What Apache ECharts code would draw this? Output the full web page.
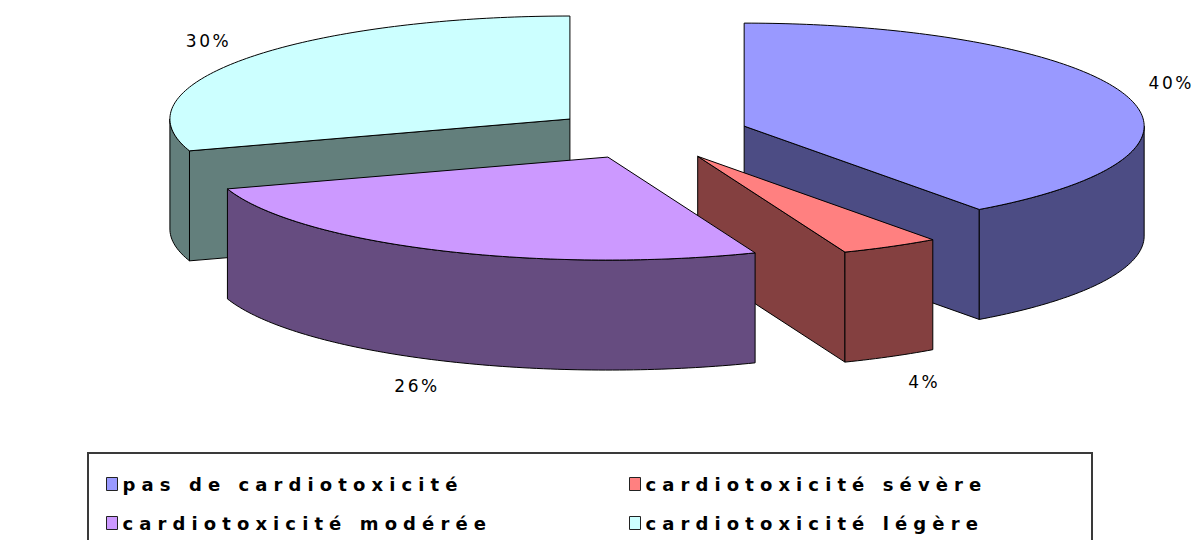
<!DOCTYPE html>
<html><head><meta charset="utf-8">
<script src="https://cdn.jsdelivr.net/npm/echarts@6/dist/echarts.min.js"></script>
<style>
html,body{margin:0;padding:0;background:#fff;}
#chart{width:1193px;height:540px;}
#chart text{letter-spacing:2.5px;}
#chart text[style*="bold"]{letter-spacing:6.1px;}
</style></head><body><div id="chart"></div>
<script>
// ---- data ----
const categories = ['pas de cardiotoxicité', 'cardiotoxicité sévère', 'cardiotoxicité modérée', 'cardiotoxicité légère'];
const values = [40, 4, 26, 30]; // percent
const legendColumn1 = [categories[0], categories[2]];
const legendColumn2 = [categories[1], categories[3]];

// ---- styles ----
const topColors = ['#9999FF', '#FF8080', '#CC99FF', '#CCFFFF'];
const sideColors = ['#4C4C84', '#844040', '#664C80', '#637F7C'];
const CX = 650, CY = 134, RX = 400, RY = 103, DEPTH = 110, EXPLODE = 99;

function makeRender(i) {
  return function (params, api) {
    const total = values.reduce((s, v) => s + v, 0);
    let before = 0;
    for (let j = 0; j < i; j++) before += values[j];
    const v = api.value(0);
    const a0 = before / total * 2 * Math.PI;
    const a1 = (before + v) / total * 2 * Math.PI;
    const m = (a0 + a1) / 2;
    const K = RY / RX;
    const ox = CX + Math.sin(m) * EXPLODE;
    const oy = CY - Math.cos(m) * EXPLODE * K;
    const P = (a, d) => [ox + RX * Math.sin(a), oy - RY * Math.cos(a) + (d || 0)];
    const arc = (s, e, d) => {
      const n = Math.max(2, Math.ceil((e - s) / (Math.PI / 180)));
      const pts = [];
      for (let t = 0; t <= n; t++) pts.push(P(s + (e - s) * t / n, d));
      return pts;
    };
    const base = Math.round((1 - Math.cos(m)) * 1000);
    const sideStyle = { fill: sideColors[i], stroke: '#000', lineWidth: 1, lineJoin: 'round' };
    const topStyle = { fill: topColors[i], stroke: '#000', lineWidth: 1, lineJoin: 'round' };
    const children = [];
    if (Math.sin(a0) < -1e-6) {
      children.push({ type: 'polygon', z2: base, shape: { points: [[ox, oy], P(a0), P(a0, DEPTH), [ox, oy + DEPTH]] }, style: sideStyle });
    }
    if (Math.sin(a1) > 1e-6) {
      children.push({ type: 'polygon', z2: base, shape: { points: [[ox, oy], P(a1), P(a1, DEPTH), [ox, oy + DEPTH]] }, style: sideStyle });
    }
    const s = Math.max(a0, Math.PI / 2), e = Math.min(a1, 1.5 * Math.PI);
    if (s < e) {
      children.push({ type: 'polygon', z2: base, shape: { points: arc(s, e, 0).concat(arc(s, e, DEPTH).reverse()) }, style: sideStyle });
    }
    children.push({ type: 'polygon', z2: base + 1, shape: { points: [[ox, oy]].concat(arc(a0, a1, 0)) }, style: topStyle });
    const c = Math.cos(m);
    const sn = Math.sin(m);
    const lx = ox + sn * RX * 1.12 + 1 + (c < 0 ? 12 * sn + 4 : 0);
    let ly = oy - c * RY * 1.1;
    ly += c < 0 ? DEPTH + 6 + 12 * (-c) : -4 - 12 * c;
    children.push({ type: 'text', z2: 5000, style: { text: v + '%', x: lx, y: ly, align: 'center', verticalAlign: 'middle', fill: '#000', font: '17px "DejaVu Sans"' } });
    return { type: 'group', children };
  };
}

const chart = echarts.init(document.getElementById('chart'), null, { renderer: 'svg' });
const legendCommon = {
  orient: 'vertical', top: 470, itemWidth: 11, itemHeight: 13, itemGap: 21,
  icon: 'rect', selectedMode: false,
  itemStyle: { borderColor: '#222', borderWidth: 1 },
  textStyle: { fontFamily: 'DejaVu Sans', fontWeight: 'bold', fontSize: 18, color: '#000' }
};
chart.setOption({
  animation: false,
  backgroundColor: '#fff',
  graphic: [{ type: 'rect', z: -1, shape: { x: 88, y: 453, width: 1004, height: 120 }, style: { fill: '#fff', stroke: '#3a3a3a', lineWidth: 2 } }],
  legend: [
    Object.assign({ left: 101, data: legendColumn1 }, legendCommon),
    Object.assign({ left: 624, data: legendColumn2 }, legendCommon)
  ],
  series: categories.map((name, i) => ({
    type: 'custom', name: name, coordinateSystem: 'none',
    itemStyle: { color: topColors[i] },
    data: [[values[i]]],
    renderItem: makeRender(i)
  }))
});
</script></body></html>
